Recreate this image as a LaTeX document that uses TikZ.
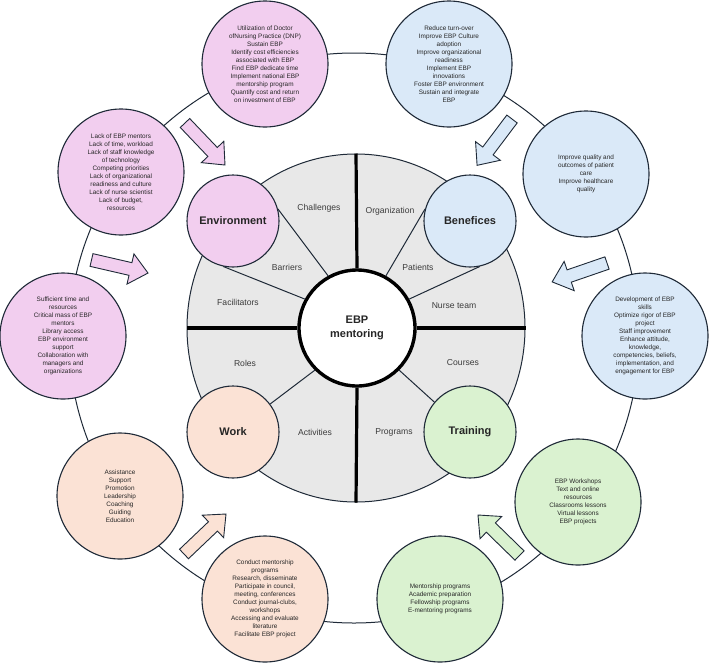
\documentclass[tikz,border=0pt]{standalone}
\usepackage{fontspec}
\setmainfont{Liberation Sans}
\usetikzlibrary{shapes.geometric}
\definecolor{pinkF}{HTML}{F2CEEF}
\definecolor{blueF}{HTML}{DAE9F8}
\definecolor{peachF}{HTML}{FBE2D5}
\definecolor{greenF}{HTML}{DAF2D0}
\definecolor{grayF}{HTML}{E8E8E8}
\definecolor{lineC}{HTML}{1F2A38}
\definecolor{textC}{HTML}{262626}
\definecolor{labC}{HTML}{3C3C3C}
\tikzset{
  outerc/.style={circle, draw=lineC, line width=1.1pt, minimum size=126pt, inner sep=0pt,
    align=center, font=\fontsize{6.4}{8}\selectfont, text=textC},
  innerc/.style={circle, draw=lineC, line width=1.1pt, minimum size=92pt, inner sep=0pt,
    font=\fontsize{11}{13}\selectfont\bfseries, text=black!85},
  lab/.style={font=\fontsize{8.6}{10}\selectfont, text=labC},
  thinsep/.style={draw=lineC, line width=1pt},
  thicksep/.style={draw=black, line width=3.2pt},
  arrowline/.style={draw=lineC, line width=0.9pt, line join=miter},
}
\newcommand{\blockarr}[4]{%
  \begin{scope}[shift={(#1,#2)},rotate=#3]
    \draw[arrowline,fill=#4] (0,-6.5) -- (40,-6.5) -- (40,-15.5) -- (58,0) -- (40,15.5) -- (40,6.5) -- (0,6.5) -- cycle;
  \end{scope}}
\begin{document}
\begin{tikzpicture}[x=1pt,y=-1pt]
\useasboundingbox (0,0) rectangle (709,662);
\fill[white] (0,0) rectangle (709,662);

% outer ring
\draw[lineC, line width=1pt] (354,338) circle[radius=285];

% gray disk
\node[ellipse, draw=lineC, line width=1pt, fill=grayF, minimum width=338pt, minimum height=348pt, inner sep=0pt] (disk) at (356,328) {};

% center circle
\node[circle, draw=black, line width=3.4pt, fill=white, minimum size=116pt, inner sep=0pt,
  align=center, font=\fontsize{11}{14}\selectfont\bfseries, text=black!85] (c) at (357,328) {EBP\\mentoring};

% inner nodes
\node[innerc, fill=pinkF] (env) at (233,221) {Environment};
\node[innerc, fill=blueF] (ben) at (470,221) {Benefices};
\node[innerc, fill=peachF] (work) at (233,432) {Work};
\node[innerc, fill=greenF] (train) at (470,432) {Training};

% thick separators
\draw[thicksep] (c.north) -- (disk.north);
\draw[thicksep] (c.south) -- (disk.south);
\draw[thicksep] (c.west) -- (disk.west);
\draw[thicksep] (c.east) -- (disk.east);

% thin separators
\draw[thinsep] (c.119) -- (env.15);
\draw[thinsep] (c.151) -- (env.-102);
\draw[thinsep] (c.61) -- (ben.165);
\draw[thinsep] (c.29) -- (ben.-78);
\draw[thinsep] (c.-135) -- (work.37);
\draw[thinsep] (c.-45) -- (train.140);

% sector labels
\node[lab] (l1) at (319,208) {Challenges};
\node[lab] (l2) at (390,211) {Organization};
\node[lab] (l3) at (287,267) {Barriers};
\node[lab] (l4) at (418,267) {Patients};
\node[lab] (l5) at (238,302) {Facilitators};
\node[lab] (l6) at (454,306) {Nurse team};
\node[lab] (l7) at (245,363) {Roles};
\node[lab] (l8) at (463,363) {Courses};
\node[lab] (l9) at (315,432) {Activities};
\node[lab] (l10) at (394,432) {Programs};

% outer circles
\node[outerc, fill=pinkF] (o1) at (265,64) {Utilization of Doctor\\ofNursing Practice (DNP)\\Sustain EBP\\Identify cost efficiencies\\associated with EBP\\Find EBP dedicate time\\Implement national EBP\\mentorship program\\Quantify cost and return\\on investment of EBP};
\node[outerc, fill=blueF] (o2) at (449,64) {Reduce turn-over\\Improve EBP Culture\\adoption\\Improve organizational\\readiness\\Implement EBP\\innovations\\Foster EBP environment\\Sustain and integrate\\EBP};
\node[outerc, fill=pinkF] (o3) at (121,172) {Lack of EBP mentors\\Lack of time, workload\\Lack of staff knowledge\\of technology\\Competing priorities\\Lack of organizational\\readiness and culture\\Lack of nurse scientist\\Lack of budget,\\resources};
\node[outerc, fill=blueF] (o4) at (586,174) {Improve quality and\\outcomes of patient\\care\\Improve healthcare\\quality};
\node[outerc, fill=pinkF] (o5) at (63,336) {Sufficient time and\\resources\\Critical mass of EBP\\mentors\\Library access\\EBP environment\\support\\Collaboration with\\managers and\\organizations};
\node[outerc, fill=blueF] (o6) at (645,336) {Development of EBP\\skills\\Optimize rigor of EBP\\project\\Staff improvement\\Enhance attitude,\\knowledge,\\competencies, beliefs,\\implementation, and\\engagement for EBP};
\node[outerc, fill=peachF] (o7) at (120,496) {Assistance\\Support\\Promotion\\Leadership\\Coaching\\Guiding\\Education};
\node[outerc, fill=greenF] (o8) at (578,502) {EBP Workshops\\Text and online\\resources\\Classrooms lessons\\Virtual lessons\\EBP projects};
\node[outerc, fill=peachF] (o9) at (265,599) {Conduct mentorship\\programs\\Research, disseminate\\Participate in council,\\meeting, conferences\\Conduct journal-clubs,\\workshops\\Accessing and evaluate\\literature\\Facilitate EBP project};
\node[outerc, fill=greenF] (o10) at (440,599) {Mentorship programs\\Academic preparation\\Fellowship programs\\E-mentoring programs};

% block arrows (tail x, tail y, canvas angle, colour)
\blockarr{185}{123}{-46.4}{pinkF}
\blockarr{91.5}{260}{-13}{pinkF}
\blockarr{512}{119}{-127}{blueF}
\blockarr{607}{263}{-161}{blueF}
\blockarr{519.5}{555.5}{135.7}{greenF}
\blockarr{184}{554}{43.6}{peachF}
\end{tikzpicture}
\end{document}
